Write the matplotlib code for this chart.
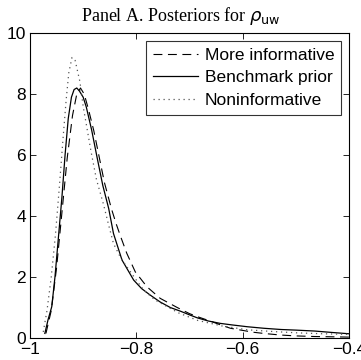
import matplotlib
matplotlib.use("Agg")
import matplotlib.pyplot as plt
from matplotlib.ticker import FuncFormatter

# posterior densities
x_more = [-0.970, -0.960, -0.950, -0.940, -0.930, -0.920, -0.912, -0.905, -0.898, -0.890,
          -0.880, -0.870, -0.860, -0.847, -0.838, -0.830, -0.818, -0.802, -0.780, -0.755,
          -0.723, -0.700, -0.685, -0.660, -0.640, -0.623, -0.600, -0.580, -0.560, -0.530,
          -0.500, -0.465, -0.430, -0.400]
y_more = [0.15, 0.9, 2.3, 4.1, 5.9, 7.3, 8.0, 8.2, 8.0, 7.5,
          6.8, 5.95, 5.1, 4.25, 3.75, 3.35, 2.78, 2.17, 1.68, 1.30,
          1.0, 0.80, 0.70, 0.55, 0.42, 0.32, 0.25, 0.19, 0.15, 0.10,
          0.07, 0.05, 0.04, 0.03]

x_bench = [-0.972, -0.966, -0.959, -0.953, -0.947, -0.940, -0.934, -0.928, -0.922, -0.917,
           -0.912, -0.907, -0.900, -0.894, -0.884, -0.874, -0.863, -0.852, -0.843, -0.827,
           -0.805, -0.790, -0.774, -0.755, -0.736, -0.717, -0.700, -0.685, -0.665, -0.642,
           -0.620, -0.591, -0.560, -0.528, -0.500, -0.465, -0.430, -0.400]
y_bench = [0.15, 0.6, 1.03, 2.0, 3.2, 4.6, 6.0, 7.2, 7.9, 8.15,
           8.2, 8.1, 7.9, 7.57, 6.82, 5.94, 5.0, 4.25, 3.43, 2.56,
           1.90, 1.62, 1.41, 1.18, 1.0, 0.88, 0.76, 0.66, 0.56, 0.48,
           0.43, 0.37, 0.32, 0.28, 0.26, 0.23, 0.18, 0.14]

x_non = [-0.975, -0.968, -0.960, -0.952, -0.945, -0.938, -0.932, -0.927, -0.921, -0.915,
         -0.906, -0.900, -0.892, -0.885, -0.875, -0.862, -0.852, -0.843, -0.830, -0.818,
         -0.800, -0.786, -0.765, -0.742, -0.720, -0.685, -0.640, -0.591, -0.540, -0.497,
         -0.450, -0.400]
y_non = [0.2, 0.9, 2.0, 3.4, 4.9, 6.5, 7.8, 8.7, 9.2, 9.1,
         8.4, 7.6, 6.8, 6.1, 5.2, 4.4, 3.7, 3.1, 2.65, 2.34,
         1.9, 1.57, 1.25, 1.03, 0.82, 0.58, 0.40, 0.27, 0.21, 0.17,
         0.14, 0.12]

labels = ["More informative", "Benchmark prior", "Noninformative"]
xticks = [-1, -0.8, -0.6, -0.4]
yticks = [0, 2, 4, 6, 8, 10]

plt.rcParams['font.family'] = ['Liberation Sans', 'DejaVu Sans']

fig = plt.figure(figsize=(3.61, 3.60), dpi=100)
ax = fig.add_axes([0.083, 0.061, 0.884, 0.847])

ax.plot(x_more, y_more, color='black', lw=0.8, linestyle=(0, (8, 5)), label=labels[0])
ax.plot(x_bench, y_bench, color='black', lw=0.9, label=labels[1])
ax.plot(x_non, y_non, color='#555555', lw=0.9, linestyle=(0, (1, 3)), label=labels[2])

ax.set_xlim(-1, -0.4)
ax.set_ylim(0, 10)
ax.set_xticks(xticks)
ax.set_yticks(yticks)

def fmt(v, pos):
    s = ('%g' % v)
    return s.replace('-', '\u2212')

ax.xaxis.set_major_formatter(FuncFormatter(fmt))
ax.tick_params(direction='in', top=True, right=True, labelsize=12.5, length=4, width=0.6, pad=3)
for sp in ax.spines.values():
    sp.set_linewidth(0.8)

leg = ax.legend(loc='upper right', fontsize=12.5, frameon=True, fancybox=False,
                edgecolor='black', handlelength=2.6, borderpad=0.4, labelspacing=0.42,
                handletextpad=0.4, borderaxespad=0.45)
leg.get_frame().set_linewidth(0.8)

fig.text(0.5, 0.955, r'Panel A. Posteriors for $\rho_{\mathrm{uw}}$', ha='center', va='center',
         fontsize=13, family=['Liberation Serif', 'DejaVu Serif'])

fig.savefig('out.png', dpi=100)
